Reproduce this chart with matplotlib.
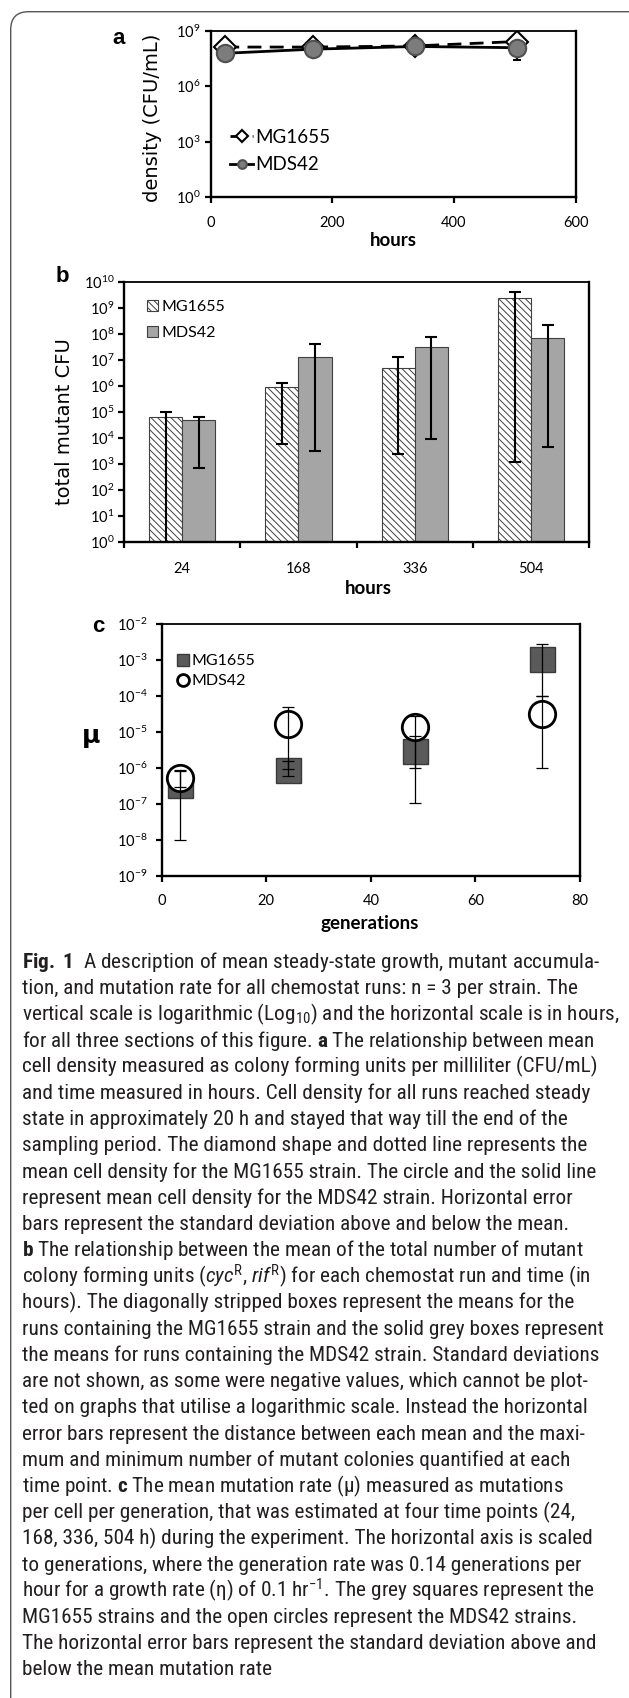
import matplotlib
matplotlib.use('Agg')
import matplotlib.pyplot as plt
import matplotlib.ticker as mticker
import matplotlib.transforms as mtransforms
from matplotlib import font_manager
from matplotlib.patches import FancyBboxPatch
import numpy as np

# ---- values ----
# a: cell density (CFU/mL)
hours_a = [24, 168, 336, 504]
mg_density = [1.3e8, 1.3e8, 1.5e8, 2.6e8]
mg_density_sd = [3e7, 3e7, 4e7, 6e7]
mds_density = [6.0e7, 1.0e8, 1.4e8, 1.2e8]
mds_density_sd = [1.5e7, 2e7, 3e7, 9.4e7]

# b: total mutant CFU, mean with min / max
hours_b = ['24', '168', '336', '504']
mg_mut = [6.6e4, 9.4e5, 5.0e6, 2.4e9]
mg_mut_max = [1.0e5, 1.3e6, 1.3e7, 4.2e9]
mg_mut_min = [0.5, 5.9e3, 2.4e3, 1.2e3]
mds_mut = [4.9e4, 1.3e7, 3.2e7, 6.7e7]
mds_mut_max = [6.3e4, 4.0e7, 7.8e7, 2.1e8]
mds_mut_min = [7.3e2, 3.2e3, 9.2e3, 4.7e3]

# c: mutation rate per generation
generations = [3.5, 24.2, 48.5, 72.7]
mg_mu = [3.4e-7, 8.8e-7, 3.0e-6, 1.04e-3]
mg_mu_hi = [8e-7, 1.6e-6, 7.9e-6, 2.8e-3]
mg_mu_lo = [1e-8, 6e-7, 1.0e-6, 1.0e-4]
mds_mu = [5.2e-7, 1.7e-5, 1.35e-5, 3.2e-5]
mds_mu_hi = [9e-7, 4.9e-5, 2.8e-5, 1.0e-4]
mds_mu_lo = [3e-7, 9.2e-7, 1.05e-7, 1.0e-6]

caption_lines = [
    r'$\mathbf{Fig.\ 1}$  A description of mean steady-state growth, mutant accumula-',
    'tion, and mutation rate for all chemostat runs: n = 3 per strain. The',
    r'vertical scale is logarithmic (Log$_{10}$) and the horizontal scale is in hours,',
    r'for all three sections of this figure. $\mathbf{a}$ The relationship between mean',
    'cell density measured as colony forming units per milliliter (CFU/mL)',
    'and time measured in hours. Cell density for all runs reached steady',
    'state in approximately 20 h and stayed that way till the end of the',
    'sampling period. The diamond shape and dotted line represents the',
    'mean cell density for the MG1655 strain. The circle and the solid line',
    'represent mean cell density for the MDS42 strain. Horizontal error',
    'bars represent the standard deviation above and below the mean.',
    r'$\mathbf{b}$ The relationship between the mean of the total number of mutant',
    r'colony forming units ($\mathit{cyc}^{R}$, $\mathit{rif}^{R}$) for each chemostat run and time (in',
    'hours). The diagonally stripped boxes represent the means for the',
    'runs containing the MG1655 strain and the solid grey boxes represent',
    'the means for runs containing the MDS42 strain. Standard deviations',
    'are not shown, as some were negative values, which cannot be plot-',
    'ted on graphs that utilise a logarithmic scale. Instead the horizontal',
    'error bars represent the distance between each mean and the maxi-',
    'mum and minimum number of mutant colonies quantified at each',
    r'time point. $\mathbf{c}$ The mean mutation rate (μ) measured as mutations',
    'per cell per generation, that was estimated at four time points (24,',
    '168, 336, 504 h) during the experiment. The horizontal axis is scaled',
    'to generations, where the generation rate was 0.14 generations per',
    r'hour for a growth rate (η) of 0.1 hr$^{-1}$. The grey squares represent the',
    'MG1655 strains and the open circles represent the MDS42 strains.',
    'The horizontal error bars represent the standard deviation above and',
    'below the mean mutation rate',
]


def have_font(name):
    try:
        font_manager.findfont(font_manager.FontProperties(family=name),
                              fallback_to_default=False)
        return True
    except ValueError:
        return False


# a narrow face suits the caption best, Lato if none is there
cap_font = 'Lato'
for name in ['Liberation Sans Narrow', 'Roboto Condensed', 'Open Sans Condensed',
             'Noto Sans Condensed', 'DejaVu Sans Condensed']:
    if have_font(name):
        cap_font = name
        break

plt.rcParams['font.family'] = ['Lato', 'DejaVu Sans']
plt.rcParams['mathtext.fontset'] = 'custom'
plt.rcParams['mathtext.rm'] = cap_font
plt.rcParams['mathtext.it'] = cap_font + ':italic'
plt.rcParams['mathtext.bf'] = cap_font + ':bold'
plt.rcParams['mathtext.default'] = 'regular'
plt.rcParams['hatch.linewidth'] = 0.7

W, H = 629, 1698
fig = plt.figure(figsize=(W / 100, H / 100), dpi=100)


def px_rect(l, t, r, b):
    return [l / W, 1 - b / H, (r - l) / W, (b - t) / H]


def ftext(x, y, s, **kw):
    return fig.text(x / W, 1 - y / H, s, **kw)


def log_fmt(v, pos):
    return r'$10^{%d}$' % int(round(np.log10(v)))


def style_axes(ax, ypad, xpad):
    ax.set_yscale('log')
    ax.yaxis.set_minor_locator(mticker.NullLocator())
    ax.yaxis.set_major_formatter(mticker.FuncFormatter(log_fmt))
    for s in ax.spines.values():
        s.set_linewidth(1.7)
    ax.spines['top'].set_linewidth(1.3)
    ax.tick_params(axis='y', direction='out', length=4, width=1.6,
                   labelsize=10.5, pad=ypad)
    ax.tick_params(axis='x', direction='out', length=4, width=1.6,
                   labelsize=10.5, pad=xpad)


# ---- panel a ----
ax_a = fig.add_axes(px_rect(210.7, 30.7, 575.7, 197))
style_axes(ax_a, 3.5, 10)
ax_a.errorbar(hours_a, mg_density, yerr=mg_density_sd, fmt='none', ecolor='k',
              elinewidth=1.5, capsize=3, capthick=1.5, zorder=2)
ax_a.plot(hours_a, mg_density, color='k', lw=2, dashes=(5, 3), marker='D', ms=11.5,
          mfc='white', mec='k', mew=1.5, zorder=3, label='MG1655')
ax_a.errorbar(hours_a, mds_density, yerr=mds_density_sd, fmt='none', ecolor='k',
              elinewidth=1.5, capsize=3, capthick=1.5, zorder=2)
ax_a.plot(hours_a, mds_density, color='k', lw=2, marker='o', ms=12.5,
          mfc='#7c7c7c', mec='#505050', mew=1.5, zorder=4, label='MDS42')
ax_a.set_xlim(0, 600)
ax_a.set_xticks([0, 200, 400, 600])
ax_a.set_ylim(1, 1e9)
ax_a.set_yticks([1, 1e3, 1e6, 1e9])
ax_a.legend(loc='upper left', bbox_to_anchor=(0.053, 0.41), frameon=False,
            borderpad=0, borderaxespad=0, handlelength=1.25, handletextpad=0.1,
            labelspacing=0.55, markerscale=0.5, prop={'family': 'Lato', 'size': 13.5})
ftext(118.5, 39, 'a', fontsize=16, fontweight='bold', family='Liberation Sans',
      ha='center', va='center')
ftext(153, 117.5, 'density (CFU/mL)', fontsize=14, family='DejaVu Sans',
      rotation=90, ha='center', va='center')
ftext(393, 240, 'hours', fontsize=13.5, fontweight='bold', ha='center', va='center')

# ---- panel b ----
ax_b = fig.add_axes(px_rect(124, 281.7, 589.3, 542.3))
style_axes(ax_b, 3, 10)
x = np.arange(len(hours_b))
w = 0.286
bars_mg = ax_b.bar(x - w / 2, mg_mut, w, color='white', edgecolor='#404040',
                   hatch='\\\\\\\\\\', lw=0.8, label='MG1655', zorder=2)
bars_mds = ax_b.bar(x + w / 2, mds_mut, w, color='#a5a5a5', edgecolor='#404040',
                    lw=0.8, label='MDS42', zorder=2)
ax_b.errorbar(x - w / 2, mg_mut,
              yerr=[np.subtract(mg_mut, mg_mut_min), np.subtract(mg_mut_max, mg_mut)],
              fmt='none', ecolor='k', elinewidth=1.5, capsize=4.5, capthick=1.5, zorder=3)
ax_b.errorbar(x + w / 2, mds_mut,
              yerr=[np.subtract(mds_mut, mds_mut_min), np.subtract(mds_mut_max, mds_mut)],
              fmt='none', ecolor='k', elinewidth=1.5, capsize=4.5, capthick=1.5, zorder=3)
ax_b.set_xlim(-0.5, len(hours_b) - 0.5)
ax_b.set_xticks(np.arange(-0.5, len(hours_b)), labels=[''] * (len(hours_b) + 1))
ax_b.set_xticks(x, labels=hours_b, minor=True)
ax_b.tick_params(axis='x', which='minor', length=0, labelsize=10.5, pad=14)
ax_b.set_ylim(1, 1e10)
ax_b.set_yticks(10.0 ** np.arange(0, 11))
ax_b.legend(handles=[bars_mg, bars_mds], loc='upper left', bbox_to_anchor=(0.049, 0.93),
            frameon=False, borderpad=0, borderaxespad=0, handlelength=0.7,
            handleheight=0.7, handletextpad=0.2, labelspacing=0.75,
            prop={'family': 'Lato', 'size': 11.5})
ftext(62.5, 276, 'b', fontsize=16, fontweight='bold', family='Liberation Sans',
      ha='center', va='center')
ftext(65, 421.5, 'total mutant CFU', fontsize=14, family='DejaVu Sans',
      rotation=90, ha='center', va='center')
ftext(368, 589, 'hours', fontsize=13.5, fontweight='bold', ha='center', va='center')

# ---- panel c ----
ax_c = fig.add_axes(px_rect(161.7, 624, 580, 876))
style_axes(ax_c, 6, 9)
ax_c.plot(generations, mg_mu, ls='none', marker='s', ms=18, mfc='#5a5a5a',
          mec='#3a3a3a', mew=1, zorder=3, label='MG1655')
ax_c.plot(generations, mds_mu, ls='none', marker='o', ms=19, mfc='white',
          mec='k', mew=2, zorder=4, label='MDS42')
ax_c.errorbar(generations, mg_mu,
              yerr=[np.subtract(mg_mu, mg_mu_lo), np.subtract(mg_mu_hi, mg_mu)],
              fmt='none', ecolor='k', elinewidth=0.9, capsize=4, capthick=0.9, zorder=5)
ax_c.errorbar(generations, mds_mu,
              yerr=[np.subtract(mds_mu, mds_mu_lo), np.subtract(mds_mu_hi, mds_mu)],
              fmt='none', ecolor='k', elinewidth=0.9, capsize=4, capthick=0.9, zorder=5)
ax_c.set_xlim(0, 80)
ax_c.set_xticks([0, 20, 40, 60, 80])
ax_c.set_ylim(1e-9, 1e-2)
ax_c.set_yticks(10.0 ** np.arange(-9, -1))
ax_c.legend(loc='upper left', bbox_to_anchor=(0.037, 0.88), frameon=False,
            borderpad=0, borderaxespad=0, handlelength=0.7, handletextpad=0.2,
            labelspacing=0.35, markerscale=0.45, prop={'family': 'Lato', 'size': 11.5})
ftext(98.5, 626.5, 'c', fontsize=16, fontweight='bold', family='Liberation Sans',
      ha='center', va='center')
ftext(91, 736, 'μ', fontsize=18, fontweight='bold', family='DejaVu Sans',
      ha='center', va='center')
ftext(370, 924, 'generations', fontsize=13.5, fontweight='bold', ha='center', va='center')

# ---- rounded frame round the figure, right side off the page ----
tr = mtransforms.Affine2D().scale(1 / W, 1 / H) + fig.transFigure
frame = FancyBboxPatch((10.7, -40), 650, H - 11.7 + 40,
                       boxstyle='round,pad=0,rounding_size=18', transform=tr,
                       fc='none', ec='#555555', lw=1.0)
fig.add_artist(frame)

# ---- caption, sized so the lines fill the same width ----
renderer = fig.canvas.get_renderer()
probe = ftext(22, 1000, caption_lines[2], fontsize=12, family=[cap_font, 'DejaVu Sans'])
probe_w = probe.get_window_extent(renderer).width
probe.remove()
cap_size = 12 * 596 / probe_w

cap_y0, cap_dy = 968, 26.2
for i, line in enumerate(caption_lines):
    ftext(22, cap_y0 + i * cap_dy, line, fontsize=cap_size,
          family=[cap_font, 'DejaVu Sans'], color='#231f20', va='baseline')

fig.savefig('out.png', dpi=100)
